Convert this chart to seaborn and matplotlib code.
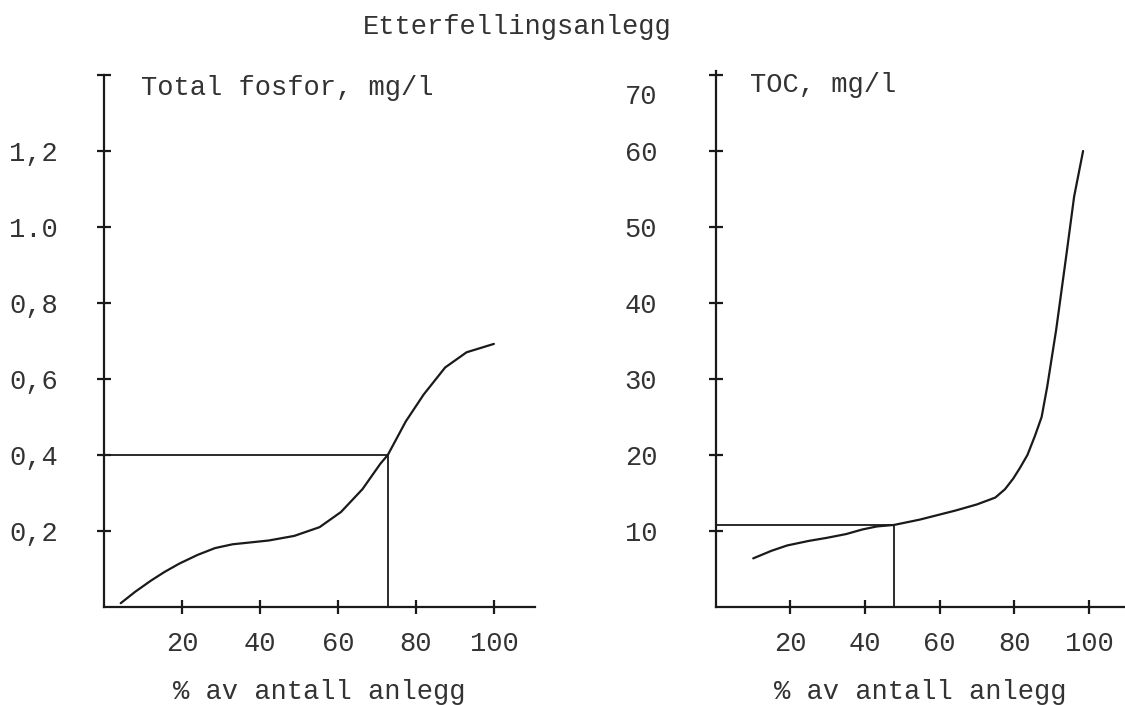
import seaborn as sns
import matplotlib.pyplot as plt

fosfor_x = [4.3, 8, 12, 15.5, 19.3, 24, 28.5, 33, 37.7, 42.3, 48.8, 55.3, 60.8, 66.3, 70.9, 72.8, 77.4, 82, 87.5, 93, 100]
fosfor_y = [0.01, 0.04, 0.069, 0.092, 0.114, 0.137, 0.155, 0.165, 0.17, 0.175, 0.187, 0.21, 0.25, 0.31, 0.377, 0.40, 0.488, 0.559, 0.63, 0.67, 0.692]
fosfor_grense = (72.8, 0.40)

toc_x = [10.1, 15, 19.2, 25, 29.8, 35, 39.3, 43.2, 47.8, 54.7, 64.3, 70, 74.9, 77.5, 79.7, 81.5, 83.5, 85.5, 87.3, 88.8, 91.2, 94, 96, 98.4]
toc_y = [6.4, 7.4, 8.1, 8.7, 9.1, 9.6, 10.2, 10.6, 10.8, 11.5, 12.7, 13.5, 14.4, 15.5, 16.9, 18.3, 20, 22.5, 25, 29, 36.5, 46.6, 54, 60]
toc_grense = (47.8, 10.75)

x_ticks = [20, 40, 60, 80, 100]
fosfor_ticks = [0.2, 0.4, 0.6, 0.8, 1.0, 1.2, 1.4]
fosfor_labels = ["0,2", "0,4", "0,6", "0,8", "1.0", "1,2", ""]
toc_ticks = [10, 20, 30, 40, 50, 60, 70]
toc_labels = ["10", "20", "30", "40", "50", "60", ""]

sns.set_style("ticks")
plt.rcParams['font.family'] = ['Liberation Mono', 'DejaVu Sans']
ink = "#1a1a1a"
txt = "#333333"
fs = 19.5

fig = plt.figure(figsize=(11.25, 7.05), dpi=100)
ax1 = fig.add_axes([0.0924, 0.139, 0.383, 0.755])
ax2 = fig.add_axes([0.636, 0.139, 0.3636, 0.76])

panels = [
    (ax1, fosfor_x, fosfor_y, fosfor_grense, fosfor_ticks, fosfor_labels, (0, 1.40), (0, 110.5), "Total fosfor, mg/l", 28),
    (ax2, toc_x, toc_y, toc_grense, toc_ticks, toc_labels, (0, 70.5), (0, 109.5), "TOC, mg/l", 37),
]

for ax, xs, ys, gr, yt, yl, ylim, xlim, navn, ypad in panels:
    sns.lineplot(x=xs, y=ys, ax=ax, color=ink, linewidth=1.6, sort=False, estimator=None)
    gx, gy = gr
    sns.lineplot(x=[0, gx, gx], y=[gy, gy, 0], ax=ax, color=ink, linewidth=1.3,
                 sort=False, estimator=None)
    ax.set_xlim(*xlim)
    ax.set_ylim(*ylim)
    ax.set_xticks(x_ticks)
    ax.set_xticklabels([str(v) for v in x_ticks])
    ax.set_yticks(yt)
    ax.set_yticklabels(yl)
    for s in ["top", "right"]:
        ax.spines[s].set_visible(False)
    for s in ["left", "bottom"]:
        ax.spines[s].set_color(ink)
        ax.spines[s].set_linewidth(1.6)
    ax.tick_params(axis="both", direction="inout", length=10, width=1.6, color=ink,
                   labelsize=fs, labelcolor=txt, left=True, bottom=True)
    ax.tick_params(axis="y", pad=ypad)
    ax.tick_params(axis="x", pad=12)
    ax.set_xlabel("% av antall anlegg", fontsize=fs, color=txt, labelpad=16)
    ax.text(0.085, 0.975, navn, transform=ax.transAxes, fontsize=fs, color=txt, va="center")

# "70" står litt under toppmerket
ax2.annotate("70", xy=(0, 70), xycoords=("axes fraction", "data"), xytext=(-42, -16),
             textcoords="offset points", ha="right", va="center", fontsize=fs, color=txt)

fig.text(0.46, 0.962, "Etterfellingsanlegg", ha="center", va="center", fontsize=fs, color=txt)

plt.savefig("out.png", dpi=100)
